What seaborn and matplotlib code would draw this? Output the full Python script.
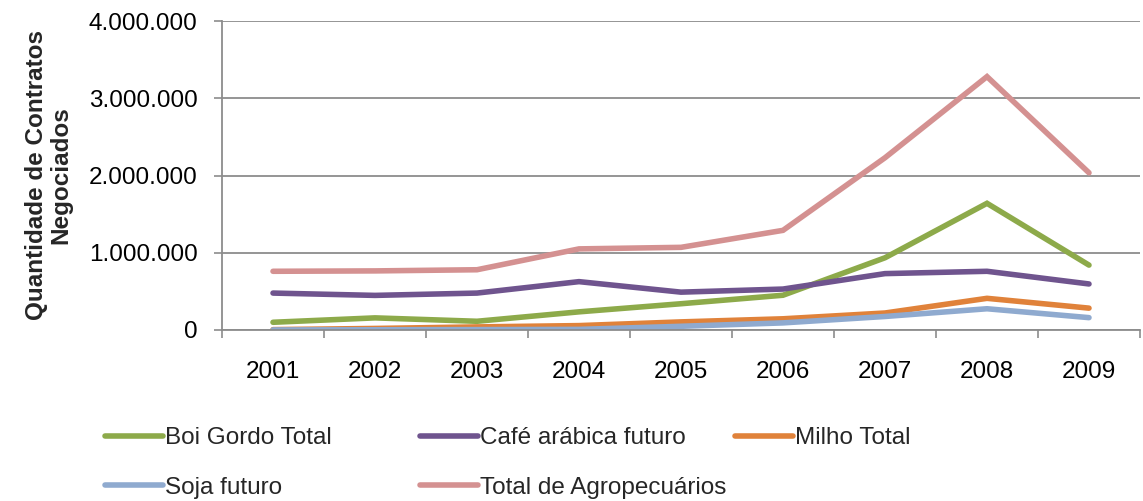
import numpy as np
import pandas as pd
import matplotlib
matplotlib.use("Agg")
import matplotlib.pyplot as plt
import seaborn as sns

# Dados (contratos negociados por ano)
anos = ["2001", "2002", "2003", "2004", "2005", "2006", "2007", "2008", "2009"]
boi_gordo = [100000, 157000, 113000, 235000, 340000, 450000, 935000, 1640000, 840000]
cafe_arabica = [478000, 448000, 478000, 626000, 490000, 530000, 730000, 760000, 596000]
milho = [5000, 20000, 40000, 57000, 105000, 145000, 220000, 410000, 283000]
soja = [1000, 3000, 5000, 8000, 48000, 92000, 175000, 275000, 160000]
total_agro = [760000, 765000, 780000, 1050000, 1070000, 1290000, 2230000, 3280000, 2035000]

series = {
    "Boi Gordo Total": boi_gordo,
    "Café arábica futuro": cafe_arabica,
    "Milho Total": milho,
    "Soja futuro": soja,
    "Total de Agropecuários": total_agro,
}
cores = ["#8DAA4A", "#6F548E", "#E0823A", "#8FAACF", "#D49191"]
y_ticks = [0, 1000000, 2000000, 3000000, 4000000]
y_labels = ["0", "1.000.000", "2.000.000", "3.000.000", "4.000.000"]

df = pd.DataFrame(
    [(i, nome, v) for nome, vals in series.items() for i, v in enumerate(vals)],
    columns=["ano", "serie", "valor"],
)

sns.set_theme(style="white")
plt.rcParams["font.family"] = ["Liberation Sans", "DejaVu Sans"]

fig = plt.figure(figsize=(11.43, 5.01), dpi=100)
ax = fig.add_axes([222 / 1143, 1 - 330 / 501, 918 / 1143, 309 / 501])

sns.lineplot(data=df, x="ano", y="valor", hue="serie", palette=cores,
             linewidth=4.0, ax=ax, legend=True, solid_capstyle="round",
             solid_joinstyle="miter")
handles, labels = ax.get_legend_handles_labels()
ax.get_legend().remove()

cinza = "#8C8C8C"
ax.set_xlim(-0.5, 8.5)
ax.set_ylim(0, 4000000)
ax.set_yticks(y_ticks)
ax.set_yticklabels(y_labels)
ax.set_xticks(range(len(anos)))
ax.set_xticklabels(anos)
ax.set_xticks(np.arange(-0.5, 9.0, 1.0), minor=True)
ax.tick_params(axis="x", which="major", length=0, pad=22, labelsize=17.5, colors="black")
ax.tick_params(axis="x", which="minor", length=6, width=1.2, color=cinza, direction="out", bottom=True)
ax.tick_params(axis="y", length=5.5, width=1.2, color=cinza, direction="out", pad=12,
               labelsize=17.5, left=True, labelcolor="black")
ax.grid(axis="y", color=cinza, linewidth=1.3)
ax.set_axisbelow(True)
for s in ["top", "right"]:
    ax.spines[s].set_visible(False)
for s in ["left", "bottom"]:
    ax.spines[s].set_color(cinza)
    ax.spines[s].set_linewidth(1.3)

ax.set_xlabel("")
ax.set_ylabel("Quantidade de Contratos\nNegociados", fontsize=17.5, fontweight="bold",
              linespacing=1.05)
ax.yaxis.set_label_coords(-0.163, 0.5)

# legenda em 3 colunas, preenchida por linha
colunas = [[0, 3], [1, 4], [2]]
xs = [105, 420, 735]
for x0, idx in zip(xs, colunas):
    leg = fig.legend([handles[i] for i in idx], [labels[i] for i in idx],
                     loc="upper left", bbox_to_anchor=(x0 / 1143, 1 - 427 / 501),
                     frameon=False, fontsize=17.5, handlelength=2.4,
                     handletextpad=0.05, borderpad=0, borderaxespad=0,
                     labelspacing=1.15)
    for ln in leg.get_lines():
        ln.set_linewidth(4.0)

fig.savefig("out.png", dpi=100)
